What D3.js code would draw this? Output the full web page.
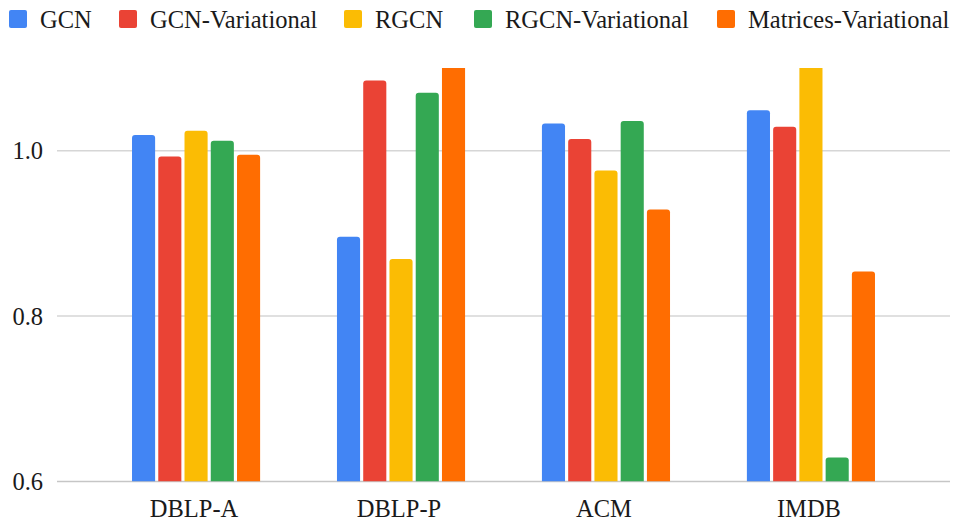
<!DOCTYPE html>
<html>
<head>
<meta charset="utf-8">
<script src="https://cdn.jsdelivr.net/npm/d3@7"></script>
<style>
  html, body { margin: 0; padding: 0; background: #fff; }
  svg { display: block; font-family: "Liberation Serif", "Times New Roman", serif; }
</style>
</head>
<body>
<div id="chart"></div>
<script>
// Datasets on the x axis and the five models
const datasets = ['DBLP-A', 'DBLP-P', 'ACM', 'IMDB'];
const models = ['GCN', 'GCN-Variational', 'RGCN', 'RGCN-Variational', 'Matrices-Variational'];
const colors = ['#4285F4', '#EA4335', '#FBBC04', '#34A853', '#FF6D01'];

// values per model, in dataset order (bars above 1.1 get clipped)
const gcn = [1.019, 0.896, 1.033, 1.049];
const gcnVariational = [0.993, 1.085, 1.014, 1.029];
const rgcn = [1.024, 0.869, 0.976, 1.15];
const rgcnVariational = [1.012, 1.070, 1.036, 0.629];
const matricesVariational = [0.995, 1.12, 0.929, 0.854];

const yTicks = [0.6, 0.8, 1.0];

const series = [gcn, gcnVariational, rgcn, rgcnVariational, matricesVariational];

const width = 961;
const height = 527;
const plot = { left: 57, right: 950, top: 68, bottom: 481.5 };
// legend swatch positions (layout only)
const legendX = [9, 119, 344, 474, 717];

const svg = d3.select('#chart')
  .append('svg')
  .attr('width', width)
  .attr('height', height);

const x0 = d3.scaleBand()
  .domain(datasets)
  .range([plot.left, plot.right])
  .paddingInner(0.375)
  .paddingOuter(0.366);

const x1 = d3.scaleBand()
  .domain(models)
  .range([0, x0.bandwidth()])
  .paddingInner(0.12)
  .paddingOuter(0);

const y = d3.scaleLinear()
  .domain([0.6, 1.1])
  .range([plot.bottom, plot.top]);

// gridlines
svg.append('g')
  .selectAll('line')
  .data(yTicks)
  .join('line')
  .attr('x1', plot.left)
  .attr('x2', plot.right)
  .attr('y1', d => y(d))
  .attr('y2', d => y(d))
  .attr('stroke', d => d === 0.6 ? '#c6c6c6' : '#d6d6d6')
  .attr('stroke-width', 1.5);

// y tick labels
svg.append('g')
  .selectAll('text')
  .data(yTicks)
  .join('text')
  .attr('x', 43)
  .attr('y', d => y(d))
  .attr('dy', '0.35em')
  .attr('text-anchor', 'end')
  .attr('font-size', '24.5px')
  .attr('fill', '#1a1a1a')
  .text(d => d3.format('.1f')(d));

// clip bars at the top of the plot
svg.append('clipPath')
  .attr('id', 'plot-clip')
  .append('rect')
  .attr('x', plot.left)
  .attr('y', plot.top)
  .attr('width', plot.right - plot.left)
  .attr('height', plot.bottom - plot.top);

// bar path with rounded top corners
const barPath = (bx, by, bw, bh, r) => {
  r = Math.min(r, bh, bw / 2);
  return `M${bx},${by + bh}V${by + r}Q${bx},${by} ${bx + r},${by}` +
    `H${bx + bw - r}Q${bx + bw},${by} ${bx + bw},${by + r}V${by + bh}Z`;
};

const barData = [];
series.forEach((vals, i) => {
  vals.forEach((v, j) => {
    barData.push({ model: models[i], dataset: datasets[j], value: v, color: colors[i] });
  });
});

svg.append('g')
  .attr('clip-path', 'url(#plot-clip)')
  .selectAll('path')
  .data(barData)
  .join('path')
  .attr('d', d => {
    const bx = x0(d.dataset) + x1(d.model);
    const by = y(d.value);
    return barPath(bx, by, x1.bandwidth(), y(0.6) - by, 3);
  })
  .attr('fill', d => d.color);

// x labels
svg.append('g')
  .selectAll('text')
  .data(datasets)
  .join('text')
  .attr('x', d => x0(d) + x0.bandwidth() / 2 - 2)
  .attr('y', 517)
  .attr('text-anchor', 'middle')
  .attr('font-size', '24.5px')
  .attr('fill', '#1a1a1a')
  .text(d => d);

// legend
const legend = svg.append('g')
  .selectAll('g')
  .data(models)
  .join('g')
  .attr('transform', (d, i) => `translate(${legendX[i]},0)`);

legend.append('rect')
  .attr('x', 0)
  .attr('y', 10)
  .attr('width', 18)
  .attr('height', 18)
  .attr('rx', 2)
  .attr('fill', (d, i) => colors[i]);

legend.append('text')
  .attr('x', 31)
  .attr('y', 28)
  .attr('font-size', '24.5px')
  .attr('fill', '#1a1a1a')
  .text(d => d);
</script>
</body>
</html>
